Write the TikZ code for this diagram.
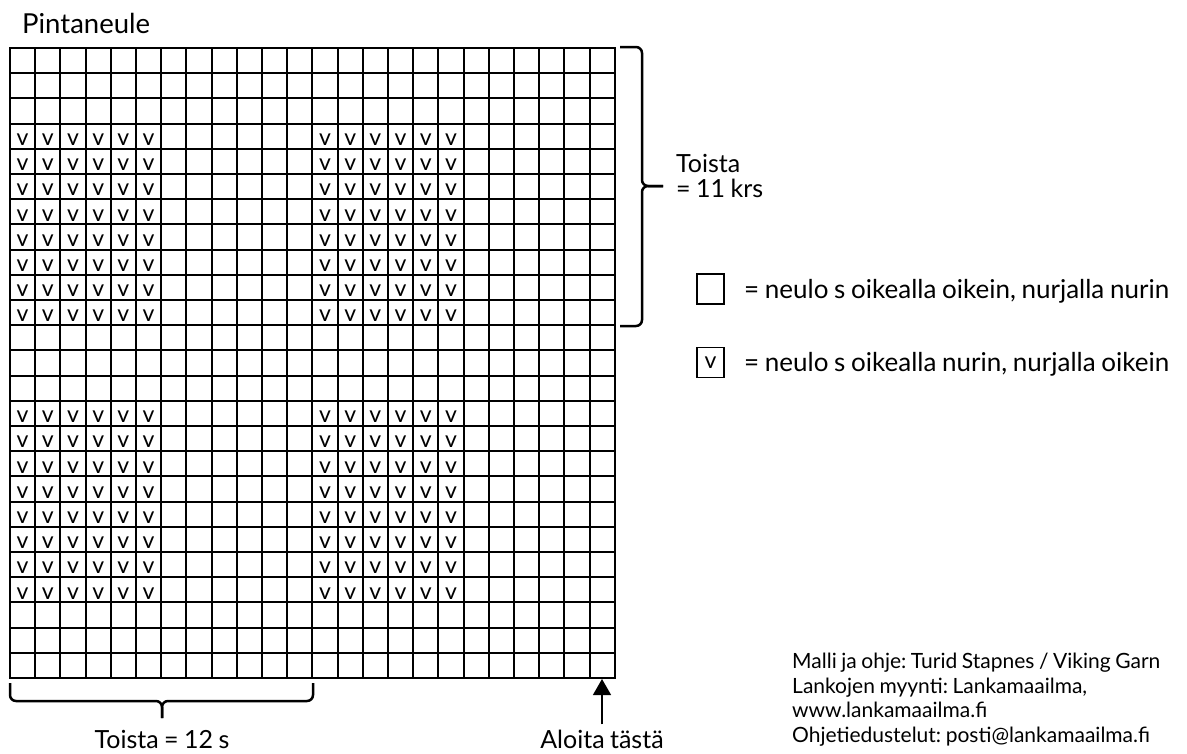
\documentclass[tikz,border=0pt]{standalone}
\usepackage{fontspec}
\setmainfont{Lato}[WordSpace=0.85]
\usetikzlibrary{arrows.meta,positioning}
\frenchspacing

\begin{document}
\begin{tikzpicture}[x=1pt, y=-1pt, text=black,
  gridline/.style={line width=2pt},
  bracket/.style={line width=2.5pt, rounded corners=6pt},
  stitch/.style={inner sep=0pt, font=\fontsize{23}{24}\selectfont},
  lbl/.style={inner sep=0pt, font=\fontsize{25}{26}\selectfont},
  keytxt/.style={inner sep=0pt, font=\fontsize{26}{27}\selectfont},
  keybox/.style={draw, line width=1.8pt, minimum width=27pt, minimum height=30pt, inner sep=0pt, font=\fontsize{23}{24}\selectfont},
  credit/.style={inner sep=0pt, align=left, font=\fontsize{21}{24.5}\selectfont}]
\useasboundingbox (0,0) rectangle (1187,753);
\def \gridleft {10}
\def \gridtop {48}
\def \cell {25.2}
\def \ncols {24}
\def \nrows {25}

%Title
\node[lbl, anchor=base west, font=\fontsize{27.5}{28}\selectfont] (title) at (22,33) {Pintaneule};

%Grid
\foreach \i in {0,...,\ncols}
  \draw[gridline] ({\gridleft+\i*\cell},\gridtop) -- ++(0,{\nrows*\cell});
\foreach \j in {0,...,\nrows}
  \draw[gridline] (\gridleft,{\gridtop+\j*\cell}) -- ++({\ncols*\cell},0);
\draw[gridline] (\gridleft,\gridtop) rectangle ++({\ncols*\cell},{\nrows*\cell});

%Purl stitches
\foreach \rb in {0,11}
  \foreach \r in {4,...,11}
    \foreach \cb in {0,12}
      \foreach \c in {1,...,6} {
        \pgfmathtruncatemacro\row{\r+\rb}
        \pgfmathtruncatemacro\col{\c+\cb}
        \node[stitch] (v\row-\col) at ({\gridleft+(\col-0.5)*\cell},{\gridtop+(\row-0.5)*\cell+3.5}) {v};
      }

%Repeat rows
\coordinate (reptop) at (620,47);
\coordinate (repbot) at (620,326);
\coordinate (reptip) at (663,186);
\draw[bracket] (reptop) -- (642,47) -- (642,186) -- (reptip);
\draw[bracket] (repbot) -- (642,326) -- (642,186) -- (reptip);
\node[lbl, anchor=base west] (toista) at (676,172) {Toista};
\node[lbl, anchor=base west] (toistakrs) at (676,197) {= 11 krs};

%Repeat stitches
\coordinate (repleft) at (10,683);
\coordinate (repright) at (313,683);
\coordinate (repdown) at (162,718);
\draw[bracket] (repleft) -- (10,701) -- (162,701) -- (repdown);
\draw[bracket] (repright) -- (313,701) -- (162,701) -- (repdown);
\node[lbl, anchor=base] (toistas) at (162,748) {Toista = 12 s};

%Start here
\coordinate (firstst) at (602,679);
\node[lbl, anchor=base] (start) at (602,748) {Aloita tästä};
\draw[line width=1.3pt, -{Triangle[width=18pt,length=16pt]}] ([yshift=5pt]start.north) -- (firstst);

%Key
\node[keybox] (knit) at (710.5,289) {};
\node[keytxt, anchor=base west] (knittxt) at (744,298) {= neulo s oikealla oikein, nurjalla nurin};
\node[keybox] (purl) at (710.5,362.5) {v};
\node[keytxt, anchor=base west] (purltxt) at (744,371) {= neulo s oikealla nurin, nurjalla oikein};

%Credits
\node[credit, anchor=north west] (credits) at (792,653) {Malli ja ohje: Turid Stapnes / Viking Garn\\Lankojen myynti: Lankamaailma,\\www.lankamaailma.fi\\Ohjetiedustelut: posti@lankamaailma.fi};

\end{tikzpicture}
\end{document}
